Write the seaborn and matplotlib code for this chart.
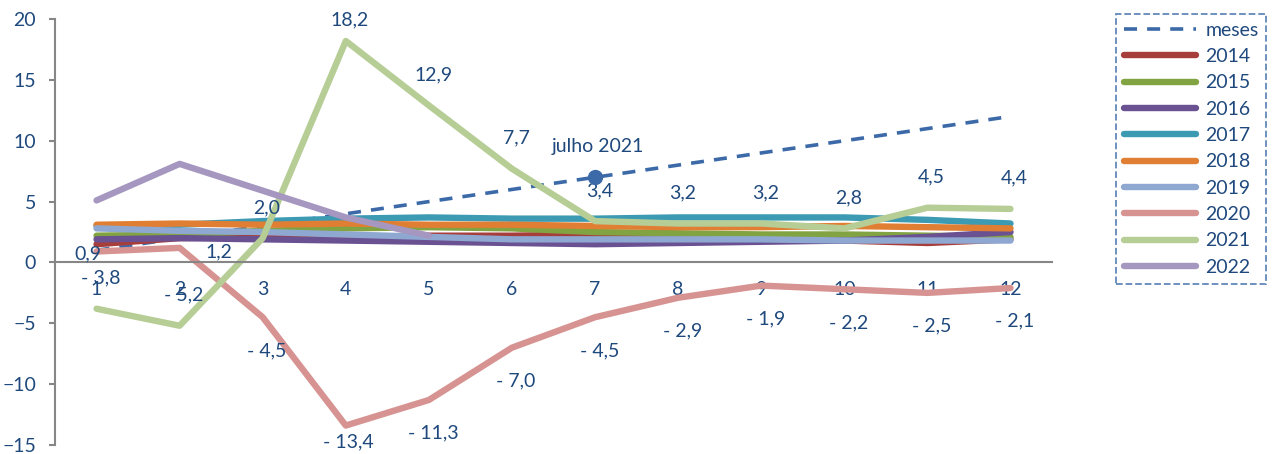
import matplotlib
matplotlib.use("Agg")
import matplotlib.pyplot as plt
import pandas as pd
import seaborn as sns

# data
months = [1, 2, 3, 4, 5, 6, 7, 8, 9, 10, 11, 12]
meses = [1, 2, 3, 4, 5, 6, 7, 8, 9, 10, 11, 12]
y2014 = [1.5, 2.0, 2.1, 2.1, 2.2, 2.2, 2.3, 2.3, 2.1, 1.8, 1.6, 1.9]
y2015 = [2.2, 2.3, 2.6, 2.8, 2.9, 2.8, 2.5, 2.4, 2.3, 2.3, 2.2, 2.1]
y2016 = [1.9, 2.0, 1.9, 1.8, 1.7, 1.6, 1.5, 1.6, 1.7, 1.8, 2.1, 2.5]
y2017 = [3.0, 3.1, 3.4, 3.6, 3.7, 3.6, 3.6, 3.7, 3.7, 3.7, 3.5, 3.2]
y2018 = [3.1, 3.2, 3.1, 3.2, 3.1, 3.1, 3.0, 2.9, 2.9, 3.0, 2.9, 2.8]
y2019 = [2.8, 2.6, 2.5, 2.3, 2.1, 1.9, 1.9, 1.9, 1.9, 1.8, 1.8, 1.8]
y2020 = [0.9, 1.2, -4.5, -13.4, -11.3, -7.0, -4.5, -2.9, -1.9, -2.2, -2.5, -2.1]
y2021 = [-3.8, -5.2, 2.0, 18.2, 12.9, 7.7, 3.4, 3.2, 3.2, 2.8, 4.5, 4.4]
y2022 = [5.1, 8.1, 5.9, 3.7, 2.2]
years = ['2014', '2015', '2016', '2017', '2018', '2019', '2020', '2021', '2022']
highlight_month = 7
highlight_label = 'julho 2021'

colors = {'2014': '#A63E3B', '2015': '#82A342', '2016': '#6A5192', '2017': '#3C9AB2',
          '2018': '#E07F33', '2019': '#8FA8D2', '2020': '#D69391', '2021': '#B6CD95',
          '2022': '#A597C0'}
blue = '#3C6AA8'
txt = '#1F497D'
grey = '#868686'

series = [y2014, y2015, y2016, y2017, y2018, y2019, y2020, y2021, y2022]
df = pd.concat([pd.DataFrame({'mes': months[:len(v)], 'valor': v, 'ano': y})
                for y, v in zip(years, series)], ignore_index=True)

sns.set_style('white')
plt.rcParams['font.family'] = ['Lato', 'DejaVu Sans']
plt.rcParams['font.size'] = 14

fig, ax = plt.subplots(figsize=(12.88, 4.54), dpi=100)
fig.subplots_adjust(left=0.0427, right=0.8168, bottom=0.0198, top=0.958)

# months dashed reference line
sns.lineplot(x=months, y=meses, ax=ax, color=blue, lw=2.6, label='meses')
ax.lines[-1].set_dashes((3.6, 2.8))

for y in years:
    d = df[df['ano'] == y]
    sns.lineplot(data=d, x='mes', y='valor', ax=ax, color=colors[y], lw=4.6,
                 label=y, solid_capstyle='round', solid_joinstyle='round')

# marker for july 2021
ax.plot(highlight_month, meses[highlight_month - 1], 'o', color=blue, ms=10, zorder=5)
ax.annotate(highlight_label, (highlight_month, meses[highlight_month - 1]),
            xytext=(2, 22), textcoords='offset points', ha='center', va='center',
            color=txt, fontsize=14)


def fmt(v):
    s = f'{abs(v):.1f}'.replace('.', ',')
    return '- ' + s if v < 0 else s


# data labels for 2020 and 2021
off2021 = [(3, 22)] * 12
off2021[3] = (3, 15)
off2020 = [(3, -24)] * 12
off2020[0] = (-6, -2)
off2020[1] = (28, -3)
off2020[3] = (2, -12)
for m, v, o in zip(months, y2021, off2021):
    ax.annotate(fmt(v), (m, v), xytext=o, textcoords='offset points',
                ha='center', va='center', color=txt, fontsize=14)
for m, v, o in zip(months, y2020, off2020):
    ax.annotate(fmt(v), (m, v), xytext=o, textcoords='offset points',
                ha='center', va='center', color=txt, fontsize=14)

ax.set_xlim(0.5, 12.5)
ax.set_ylim(-15, 20)
ax.set_yticks(range(-15, 21, 5))
ax.set_xticks(months)
ax.set_xticks([m + 0.5 for m in [0] + months], minor=True)
ax.tick_params(axis='x', which='major', length=0, pad=13, colors=txt, labelsize=14)
ax.tick_params(axis='x', which='minor', length=5, width=1.5, color=grey, direction='out')
ax.tick_params(axis='y', length=4.5, width=1.5, color=grey, pad=9, labelcolor=txt, labelsize=14,
               left=True)
ax.set_xlabel('')
ax.set_ylabel('')
for s in ['top', 'right']:
    ax.spines[s].set_visible(False)
ax.spines['bottom'].set_position(('data', 0))
for s in ['left', 'bottom']:
    ax.spines[s].set_color(grey)
    ax.spines[s].set_linewidth(1.5)

handles, labels = ax.get_legend_handles_labels()
ax.get_legend().remove()
leg = fig.legend(handles, labels, loc='upper left', bbox_to_anchor=(1116 / 1288, 1 - 14 / 454),
                 borderaxespad=0, handlelength=3.7, handletextpad=0.5, labelspacing=0.48,
                 fancybox=False, frameon=True, fontsize=14, borderpad=0.4)
for t in leg.get_texts():
    t.set_color(txt)
fr = leg.get_frame()
fr.set_edgecolor(blue)
fr.set_linestyle('--')
fr.set_linewidth(1.3)

fig.savefig('out.png', dpi=100)
